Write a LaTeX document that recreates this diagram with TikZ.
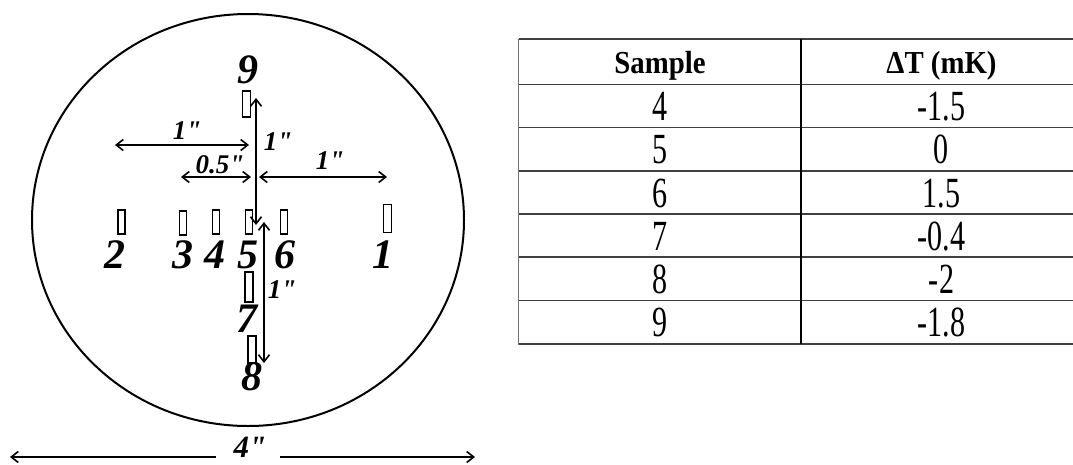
\documentclass[tikz,border=0pt]{standalone}
\usepackage{fontspec}
\setmainfont{Liberation Serif}
\newfontfamily\tabfont[FakeStretch=0.7]{Liberation Serif}
\newfontfamily\headfont[FakeStretch=0.9]{Liberation Serif}
\newfontfamily\dimfont[Ligatures=TeXOff]{Liberation Serif}
\usetikzlibrary{arrows.meta}
\tikzset{
  samplebox/.style={draw, line width=1.4pt, inner sep=0pt, minimum width=7pt, minimum height=24pt},
  numlabel/.style={anchor=base, inner sep=0pt, font=\bfseries\itshape\fontsize{42}{42}\selectfont},
  dimlabel/.style={anchor=center, inner sep=0pt, font=\dimfont\bfseries\itshape\fontsize{27}{27}\selectfont},
  dimarrow/.style={line width=1.6pt, {Straight Barb[length=7pt,width=11pt]}-{Straight Barb[length=7pt,width=11pt]}},
  halfarrowL/.style={line width=1.6pt, {Straight Barb[length=7pt,width=11pt]}-},
  halfarrowR/.style={line width=1.6pt, -{Straight Barb[length=7pt,width=11pt]}},
  headtext/.style={anchor=base, inner sep=0pt, font=\headfont\bfseries\fontsize{32}{32}\selectfont},
  bodytext/.style={anchor=base, inner sep=0pt, font=\tabfont\fontsize{43}{43}\selectfont},
  hline/.style={line width=1.5pt, draw=black!75},
}
\begin{document}
\begin{tikzpicture}[x=1pt,y=-1pt]
\useasboundingbox (0,0) rectangle (1073,464);
\fill[white] (0,0) rectangle (1073,464);

% wafer
\draw[line width=2pt] (248,220) ellipse [x radius=216, y radius=206];

% sample rectangles
\node[samplebox, minimum width=8pt, minimum height=28pt] (s1) at (387.5,218.5) {};
\node[samplebox] (s2) at (121.5,222) {};
\node[samplebox] (s3) at (183,223) {};
\node[samplebox] (s4) at (216,222) {};
\node[samplebox] (s5) at (249,222) {};
\node[samplebox] (s6) at (284,222) {};
\node[samplebox, minimum width=8pt, minimum height=26pt] (s9) at (246.5,104) {};
\node[samplebox, minimum width=8pt, minimum height=30pt] (s7) at (249,287) {};
\node[samplebox, minimum width=8pt, minimum height=27pt] (s8) at (252,349.5) {};

% sample numbers
\node[numlabel] (l1) at (383,268) {1};
\node[numlabel] (l2) at (115,268) {2};
\node[numlabel] (l3) at (183,268) {3};
\node[numlabel] (l4) at (215,268) {4};
\node[numlabel] (l5) at (248,268) {5};
\node[numlabel] (l6) at (285,268) {6};
\node[numlabel] (l9) at (248,83) {9};
\node[numlabel] (l7) at (247,332) {7};
\node[numlabel] (l8) at (252,390) {8};

% dimension arrows
\coordinate (a1l) at (115,145);
\coordinate (a1r) at (249,145);
\draw[dimarrow] (a1l) -- (a1r);
\node[dimlabel] (d1) at (187,131) {1"};

\coordinate (a2l) at (181,177);
\coordinate (a2r) at (251,177);
\draw[dimarrow] (a2l) -- (a2r);
\node[dimlabel] (d2) at (220,165) {0.5"};

\coordinate (a3l) at (259,177);
\coordinate (a3r) at (387,177);
\draw[dimarrow] (a3l) -- (a3r);
\node[dimlabel] (d3) at (330,161) {1"};

\coordinate (v1t) at (256,98);
\coordinate (v1b) at (256,225);
\draw[dimarrow] (v1t) -- (v1b);
\node[dimlabel] (d4) at (278,142) {1"};

\coordinate (v2t) at (264,222);
\coordinate (v2b) at (264,363);
\draw[dimarrow] (v2t) -- (v2b);
\node[dimlabel] (d5) at (282,290) {1"};

% overall diameter
\coordinate (b1) at (10,457);
\coordinate (b2) at (216,457);
\coordinate (b3) at (280,457);
\coordinate (b4) at (475,457);
\draw[halfarrowL] (b1) -- (b2);
\draw[halfarrowR] (b3) -- (b4);
\node[anchor=base, inner sep=0pt, font=\dimfont\bfseries\itshape\fontsize{31}{31}\selectfont] (d6) at (250,457) {4"};

% table
\draw[hline] (518.5,39) -- (1073,39);
\draw[hline] (518.5,84.5) -- (1073,84.5);
\draw[hline] (518.5,127.7) -- (1073,127.7);
\draw[hline] (518.5,171) -- (1073,171);
\draw[hline] (518.5,214) -- (1073,214);
\draw[hline] (518.5,257) -- (1073,257);
\draw[hline] (518.5,300.7) -- (1073,300.7);
\draw[hline] (518.5,344) -- (1073,344);
\draw[line width=1.6pt, draw=black!55] (518.5,38.5) -- (518.5,344.5);
\draw[line width=1.4pt] (801,39) -- (801,344);

\node[headtext] (h1) at (660,73) {Sample};
\node[headtext] (h2) at (941.5,73) {ΔT (mK)};

\node[bodytext] (r1a) at (660,120.5) {4};
\node[bodytext] (r1b) at (941.5,120.5) {-1.5};
\node[bodytext] (r2a) at (660,163.7) {5};
\node[bodytext] (r2b) at (941.5,163.7) {0};
\node[bodytext] (r3a) at (660,207) {6};
\node[bodytext] (r3b) at (941.5,207) {1.5};
\node[bodytext] (r4a) at (660,250) {7};
\node[bodytext] (r4b) at (941.5,250) {-0.4};
\node[bodytext] (r5a) at (660,293) {8};
\node[bodytext] (r5b) at (941.5,293) {-2};
\node[bodytext] (r6a) at (660,336.7) {9};
\node[bodytext] (r6b) at (941.5,336.7) {-1.8};
\end{tikzpicture}
\end{document}
